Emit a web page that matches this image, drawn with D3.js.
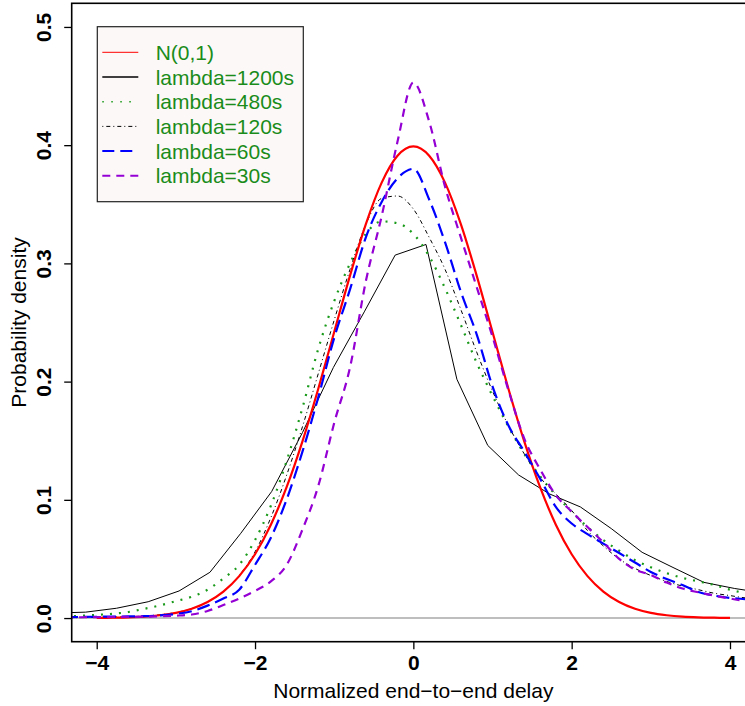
<!DOCTYPE html>
<html>
<head>
<meta charset="utf-8">
<script src="https://cdn.jsdelivr.net/npm/d3@7/dist/d3.min.js"></script>
<style>
  html, body { margin: 0; padding: 0; background: #ffffff; }
  svg { display: block; }
</style>
</head>
<body>
<div id="chart"></div>
<script>
// ---------------- data ----------------
const xTicks = [-4, -2, 0, 2, 4];
const yTicks = [0.0, 0.1, 0.2, 0.3, 0.4, 0.5];

// N(0,1) density read at x = -4 .. 4
const normX = [-4.0,-3.8,-3.6,-3.4,-3.2,-3.0,-2.8,-2.6,-2.4,-2.2,-2.0,-1.8,-1.6,-1.4,-1.2,-1.0,-0.8,-0.6,-0.4,-0.2,0.0,
               0.2,0.4,0.6,0.8,1.0,1.2,1.4,1.6,1.8,2.0,2.2,2.4,2.6,2.8,3.0,3.2,3.4,3.6,3.8,4.0];
const normY = [0.0001,0.0003,0.0006,0.0012,0.0024,0.0044,0.0079,0.0136,0.0224,0.0355,0.0540,0.0790,0.1109,0.1497,0.1942,0.2420,0.2897,0.3332,0.3683,0.3910,0.3989,
               0.3910,0.3683,0.3332,0.2897,0.2420,0.1942,0.1497,0.1109,0.0790,0.0540,0.0355,0.0224,0.0136,0.0079,0.0044,0.0024,0.0012,0.0006,0.0003,0.0001];

// lambda = 1200s (polyline)
const l1200X = [-4.53,-4.14,-3.75,-3.35,-2.96,-2.57,-2.18,-1.79,-1.40,-1.01,-0.62,-0.23,0.16,0.55,0.94,1.33,1.72,2.11,2.50,2.89,3.28,3.67,4.06,4.45];
const l1200Y = [0.0042,0.0050,0.0083,0.0138,0.0229,0.0387,0.0717,0.107,0.157,0.212,0.259,0.307,0.316,0.202,0.146,0.121,0.105,0.094,0.0757,0.0556,0.0428,0.0302,0.025,0.021];

// common grid for the smooth estimates
const gridX = [-4.4,-4.2,-4.0,-3.8,-3.6,-3.4,-3.2,-3.0,-2.8,-2.6,-2.4,-2.2,-2.0,-1.8,-1.6,-1.4,-1.2,-1.0,-0.8,-0.6,-0.4,-0.2,0.0,
               0.2,0.4,0.6,0.8,1.0,1.2,1.4,1.6,1.8,2.0,2.2,2.4,2.6,2.8,3.0,3.2,3.4,3.6,3.8,4.0,4.2,4.4];
const l480Y = [0.0012,0.0019,0.0027,0.0036,0.0051,0.0078,0.0107,0.0143,0.018,0.024,0.0335,0.045,0.066,0.095,0.133,0.178,0.228,0.268,0.300,0.325,0.3355,0.334,0.325,
               0.306,0.279,0.248,0.216,0.188,0.162,0.139,0.120,0.104,0.090,0.077,0.066,0.057,0.049,0.043,0.038,0.034,0.031,0.028,0.024,0.021,0.019];
const l120Y = [0.0003,0.0004,0.0006,0.0008,0.0011,0.0017,0.0028,0.0047,0.0080,0.0135,0.0225,0.036,0.056,0.085,0.121,0.162,0.207,0.252,0.295,0.333,0.355,0.357,0.346,
               0.322,0.295,0.261,0.225,0.192,0.163,0.139,0.119,0.105,0.091,0.074,0.061,0.050,0.042,0.036,0.031,0.027,0.024,0.021,0.019,0.017,0.016];
const l60Y  = [0.0008,0.0009,0.0011,0.0012,0.0014,0.0016,0.0022,0.0035,0.0058,0.0105,0.0165,0.024,0.045,0.068,0.1005,0.141,0.187,0.237,0.278,0.322,0.352,0.372,0.380,
               0.354,0.318,0.276,0.240,0.196,0.163,0.141,0.118,0.094,0.080,0.071,0.063,0.055,0.047,0.039,0.033,0.028,0.022,0.019,0.017,0.016,0.015];
const l30Y  = [0.0006,0.0007,0.0008,0.0009,0.0010,0.0012,0.0015,0.0020,0.0030,0.006,0.011,0.0165,0.023,0.031,0.045,0.075,0.112,0.165,0.212,0.285,0.340,0.403,0.453,
               0.420,0.365,0.322,0.280,0.238,0.193,0.152,0.126,0.104,0.090,0.077,0.064,0.050,0.041,0.0365,0.030,0.025,0.0218,0.019,0.0165,0.0144,0.0135];

const legendLabels = ["N(0,1)", "lambda=1200s", "lambda=480s", "lambda=120s", "lambda=60s", "lambda=30s"];

// ---------------- drawing ----------------
const W = 745, H = 706;
const plot = { left: 71.7, right: 755, top: 3.3, bottom: 641.7 };

const svg = d3.select("#chart").append("svg")
  .attr("width", W).attr("height", H)
  .style("font-family", "'Liberation Sans', Arial, Helvetica, sans-serif");

svg.append("rect").attr("width", W).attr("height", H).attr("fill", "#ffffff");

const x = d3.scaleLinear().domain([-4.316, 4.316]).range([plot.left, plot.right]);
const y = d3.scaleLinear().domain([-0.02, 0.52]).range([plot.bottom, plot.top]);

svg.append("clipPath").attr("id", "clip")
  .append("rect")
  .attr("x", plot.left).attr("y", plot.top)
  .attr("width", plot.right - plot.left).attr("height", plot.bottom - plot.top);

const gPlot = svg.append("g").attr("clip-path", "url(#clip)");

// grey zero line
gPlot.append("line")
  .attr("x1", plot.left).attr("x2", plot.right)
  .attr("y1", y(0)).attr("y2", y(0))
  .attr("stroke", "#bebebe").attr("stroke-width", 2);

const smooth = d3.line().x(d => x(d[0])).y(d => y(d[1])).curve(d3.curveMonotoneX);
const poly = d3.line().x(d => x(d[0])).y(d => y(d[1]));

const series = [
  { label: legendLabels[0], xs: normX, ys: normY, color: "#ff0000", width: 2.2, dash: null, gen: smooth, legW: 1, legDash: null },
  { label: legendLabels[1], xs: l1200X, ys: l1200Y, color: "#000000", width: 1, dash: null, gen: poly, legW: 1.3, legDash: null },
  { label: legendLabels[2], xs: gridX, ys: l480Y, color: "#1a9a1a", width: 2.2, dash: "2,7", gen: smooth, legW: 1.5, legDash: "1.5,7.5" },
  { label: legendLabels[3], xs: gridX, ys: l120Y, color: "#000000", width: 1, dash: "1,3,4,3", gen: smooth, legW: 1, legDash: "1,3,4,3" },
  { label: legendLabels[4], xs: gridX, ys: l60Y, color: "#0000ff", width: 2.2, dash: "13,6", gen: smooth, legW: 2, legDash: "12,6" },
  { label: legendLabels[5], xs: gridX, ys: l30Y, color: "#9400d3", width: 2.2, dash: "8,6", gen: smooth, legW: 2, legDash: "8,6" }
];

// draw in order: 1200, 480, 120, normal, 60, 30
const drawOrder = [1, 2, 3, 0, 4, 5];
drawOrder.forEach(i => {
  const s = series[i];
  const pts = s.xs.map((v, k) => [v, s.ys[k]]);
  gPlot.append("path")
    .attr("d", s.gen(pts))
    .attr("fill", "none")
    .attr("stroke", s.color)
    .attr("stroke-width", s.width)
    .attr("stroke-dasharray", s.dash)
    .attr("stroke-linejoin", "round");
});

// box
svg.append("rect")
  .attr("x", plot.left).attr("y", plot.top)
  .attr("width", plot.right - plot.left).attr("height", plot.bottom - plot.top)
  .attr("fill", "none").attr("stroke", "#000").attr("stroke-width", 1.6);

// axes
const yAxis = d3.axisLeft(y).tickValues(yTicks).tickSize(7.5).tickFormat(d3.format(".1f"));
const gy = svg.append("g").attr("transform", `translate(${plot.left},0)`).call(yAxis);
gy.select(".domain").remove();
gy.selectAll(".tick line").attr("stroke", "#000").attr("stroke-width", 1.3);
gy.selectAll(".tick text")
  .attr("x", null).attr("dy", null)
  .attr("transform", "translate(-20.5,0) rotate(-90)")
  .attr("text-anchor", "middle")
  .style("font-family", "'Liberation Sans', Arial, sans-serif")
  .style("font-size", "21px").style("font-weight", "bold").attr("fill", "#000");

const xAxis = d3.axisBottom(x).tickValues(xTicks).tickSize(7.5).tickFormat(d3.format("d"));
const gx = svg.append("g").attr("transform", `translate(0,${plot.bottom})`).call(xAxis);
gx.select(".domain").remove();
gx.selectAll(".tick line").attr("stroke", "#000").attr("stroke-width", 1.3);
gx.selectAll(".tick text")
  .attr("y", 28).attr("dy", null)
  .style("font-family", "'Liberation Sans', Arial, sans-serif")
  .style("font-size", "21px").style("font-weight", "bold").attr("fill", "#000");

// axis titles
svg.append("text")
  .attr("x", (plot.left + plot.right) / 2).attr("y", 698)
  .attr("text-anchor", "middle")
  .style("font-size", "21px").attr("fill", "#000")
  .text("Normalized end\u2212to\u2212end delay");

svg.append("text")
  .attr("transform", `translate(25.5,${(plot.top + plot.bottom) / 2}) rotate(-90)`)
  .attr("text-anchor", "middle")
  .style("font-size", "21px").attr("fill", "#000")
  .text("Probability density");

// legend
const leg = svg.append("g");
leg.append("rect")
  .attr("x", 97.3).attr("y", 26.7).attr("width", 206).attr("height", 175)
  .attr("fill", "#fdf8f8").attr("stroke", "#222").attr("stroke-width", 1.2);
const rowY = [52.3, 77.0, 101.7, 126.4, 151.1, 175.8];
series.forEach((s, i) => {
  leg.append("line")
    .attr("x1", 102.3).attr("x2", 138.3)
    .attr("y1", rowY[i]).attr("y2", rowY[i])
    .attr("stroke", s.color).attr("stroke-width", s.legW)
    .attr("stroke-dasharray", s.legDash);
  leg.append("text")
    .attr("x", 155.7).attr("y", rowY[i]).attr("dy", "0.36em")
    .style("font-size", "21px").attr("fill", "#1a8c1a")
    .text(s.label);
});
</script>
</body>
</html>
